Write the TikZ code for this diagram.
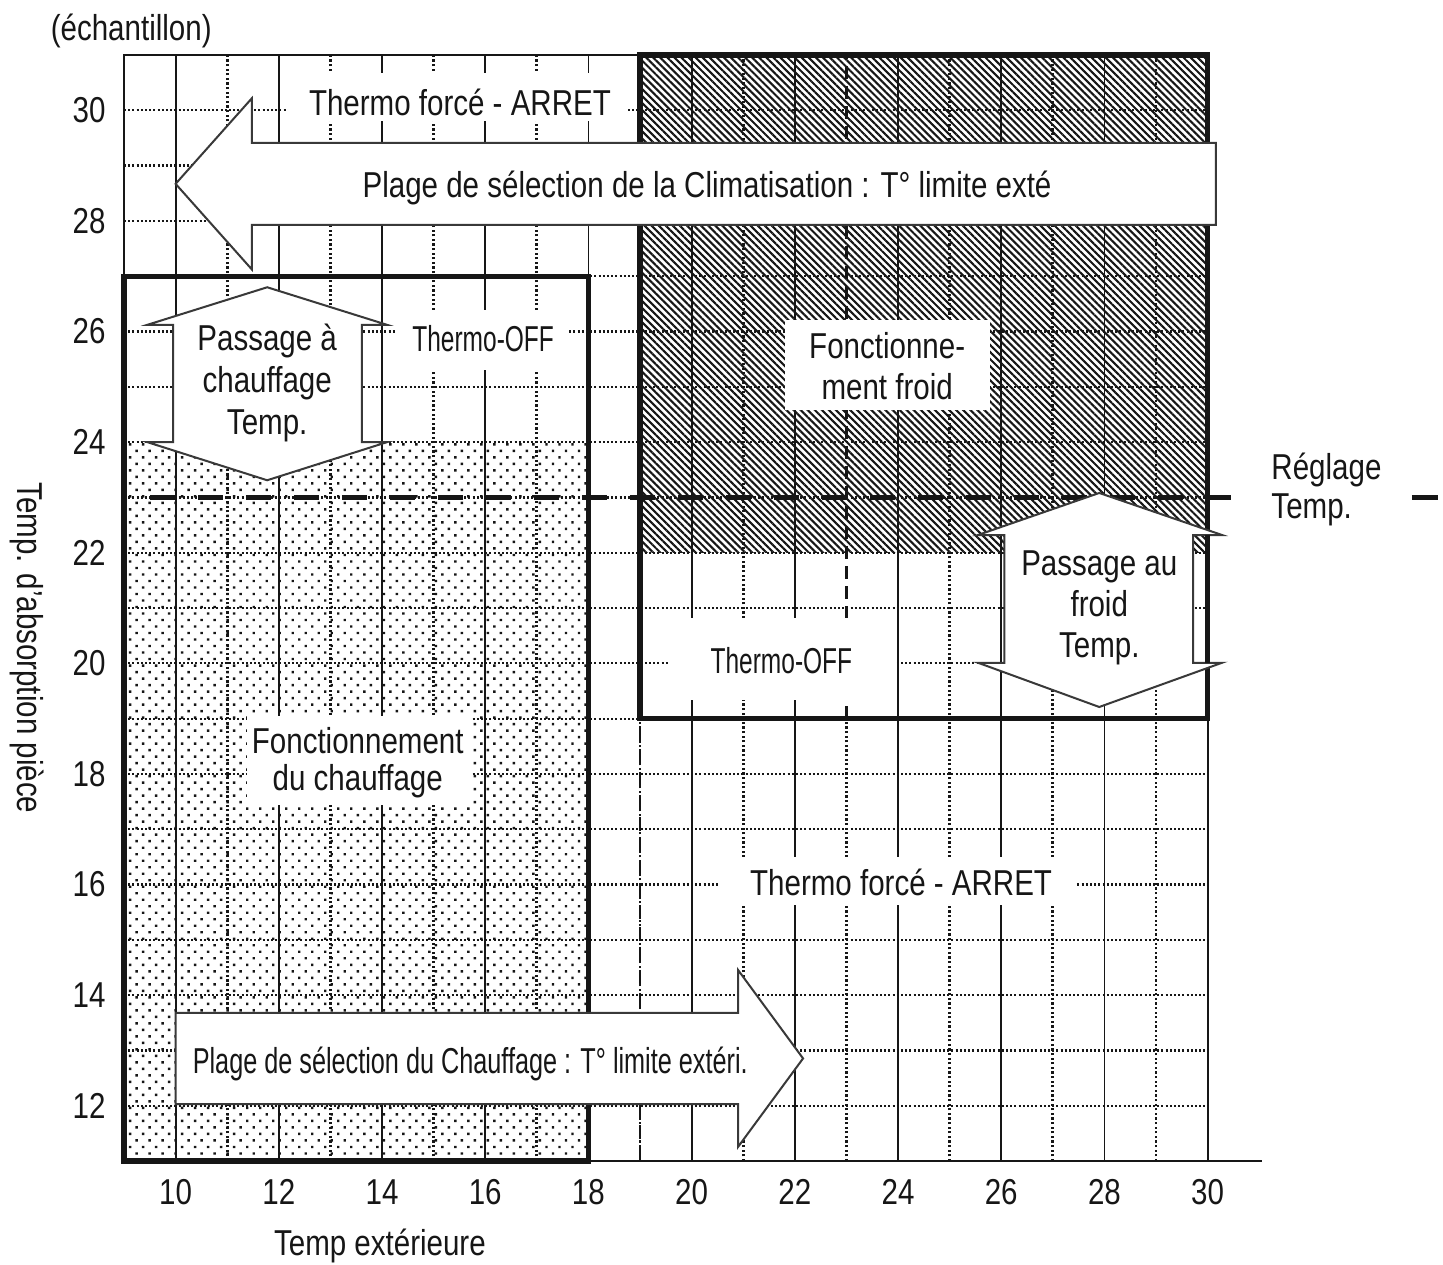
\documentclass[tikz,border=0pt]{standalone}
\usepackage{fontspec}
\setmainfont{Liberation Sans}[FakeStretch=0.82]
\usetikzlibrary{patterns.meta}
\definecolor{ink}{HTML}{161616}
\begin{document}
\begin{tikzpicture}[x=25.8pt,y=27.65pt,
  gridsolid/.style={line width=0.9pt, draw=ink},
  griddot/.style={line width=1.1pt, draw=ink, dash pattern=on 1pt off 1.1pt},
  gridvdot/.style={line width=1.4pt, draw=ink, dash pattern=on 1.1pt off 1.2pt},
  boxline/.style={line width=2.6pt, draw=ink},
  arrowshape/.style={fill=white, draw=ink!85, line width=1pt, line join=miter},
  mask/.style={fill=white, draw=none},
  lbl/.style={font=\fontsize{18}{21}\selectfont, text=ink, inner sep=0pt}]
\useasboundingbox (6.597,9.137) rectangle (34.562,31.995);
% fills
\fill[pattern={Dots[angle=45,distance=4.6pt,radius=0.85pt]}, pattern color=ink] (9,11) rectangle (18,24);
\fill[pattern={Lines[angle=-45,distance=2.5pt,line width=1.05pt]}, pattern color=ink] (19,22) rectangle (30,31);
% grid
\foreach \y in {12,...,30} \draw[griddot] (9,\y) -- (30,\y);
\foreach \x in {10,12,...,30} \draw[gridsolid] (\x,11) -- (\x,31);
\foreach \x in {11,13,15,17,21,25,27,29} \draw[gridvdot] (\x,11) -- (\x,31);
\draw[gridvdot] (19,11) -- (19,19);
\draw[ink, line width=1.4pt, dash pattern=on 7pt off 4pt] (19,11) -- (19,19);
\draw[gridvdot] (23,11) -- (23,19);
\draw[ink, line width=1.3pt, dash pattern=on 6.5pt off 3.5pt] (23,19) -- (23,31);
% frame and axis
\draw[ink, line width=1.2pt] (9,27) -- (9,31) -- (19,31);
\draw[ink, line width=1.4pt] (9,11) -- (31.05,11);
% setpoint line
\draw[ink, line width=2.8pt, dash pattern=on 12.5pt off 11.5pt] (9.5,23) -- (30.72,23);
\draw[ink, line width=2.8pt] (33.96,23) -- (34.47,23);
% masks behind texts
\fill[mask] (12.18,29.81) rectangle (18.77,30.67);
\fill[mask] (14.25,25.30) rectangle (17.6,26.39);
\fill[mask] (21.81,24.58) rectangle (25.78,26.21);
\fill[mask] (11.38,17.44) rectangle (15.70,19.04);
\fill[mask] (19.54,19.34) rectangle (23.94,20.82);
\fill[mask] (20.55,15.63) rectangle (27.47,16.50);
% region boxes
\draw[boxline] (9,11) rectangle (18,27);
\draw[boxline] (19,19) rectangle (30,31);
% arrows
\draw[arrowshape] (10,28.67) -- (11.48,30.22) -- (11.48,29.41) -- (30.16,29.41) -- (30.16,27.93) -- (11.48,27.93) -- (11.48,27.12) -- cycle;
\draw[arrowshape] (10,13.68) -- (20.9,13.68) -- (20.9,14.455) -- (22.16,12.855) -- (20.9,11.255) -- (20.9,12.03) -- (10,12.03) -- cycle;
\draw[arrowshape] (11.775,26.80) -- (14.10,26.12) -- (13.61,26.12) -- (13.61,24.0) -- (14.10,24.0) -- (11.775,23.31) -- (9.45,24.0) -- (9.95,24.0) -- (9.95,26.12) -- (9.45,26.12) -- cycle;
\draw[arrowshape] (27.9,23.08) -- (30.28,22.32) -- (29.72,22.32) -- (29.72,20.01) -- (30.28,20.01) -- (27.9,19.21) -- (25.55,20.01) -- (26.06,20.01) -- (26.06,22.32) -- (25.55,22.32) -- cycle;
\draw[boxline] (30,20.01) -- (30,22.32);
% texts
\node[lbl, anchor=base] (tfa1) at (15.51,29.90) {Thermo forcé - ARRET};
\node[lbl, anchor=base] (clim) at (20.30,28.43) {Plage de sélection de la Climatisation : T° limite exté};
\node[lbl, anchor=base] (chauf) at (15.71,12.59) {\scalebox{0.855}[1]{Plage de sélection du Chauffage : T° limite extéri.}};
\node[lbl, anchor=base] (toff1) at (15.96,25.63) {\scalebox{0.83}[1]{Thermo-OFF}};
\node[lbl, anchor=base] (toff2) at (21.74,19.82) {\scalebox{0.83}[1]{Thermo-OFF}};
\node[lbl, anchor=base] (tfa2) at (24.06,15.81) {Thermo forcé - ARRET};
\node[lbl, align=center] (pac) at (11.775,25.07) {Passage à\\chauffage\\Temp.};
\node[lbl, align=center, font=\fontsize{18}{20.5}\selectfont] (paf) at (27.9,21.0) {Passage au\\froid\\Temp.};
\node[lbl, align=center, font=\fontsize{18}{20.5}\selectfont] (ffr) at (23.79,25.38) {Fonctionne-\\ment froid};
\node[lbl, align=center, font=\fontsize{18}{18.5}\selectfont] (fch) at (13.53,18.21) {Fonctionnement\\du chauffage};
\node[lbl, align=left, anchor=west, font=\fontsize{18}{19.5}\selectfont] (regl) at (31.23,23.14) {Réglage\\Temp.};
% axes labels
\foreach \x in {10,12,...,30} \node[lbl] (xt\x) at (\x,10.44) {\x};
\foreach \y in {12,14,...,30} \node[lbl, anchor=east] (yt\y) at (8.65,\y) {\y};
\node[lbl, anchor=base] (ech) at (9.14,31.27) {(échantillon)};
\node[lbl, anchor=base] (xlab) at (13.96,9.30) {Temp extérieure};
\node[lbl, rotate=-90] (ylab) at (7.12,20.28) {Temp. d'absorption pièce};
\end{tikzpicture}
\end{document}
